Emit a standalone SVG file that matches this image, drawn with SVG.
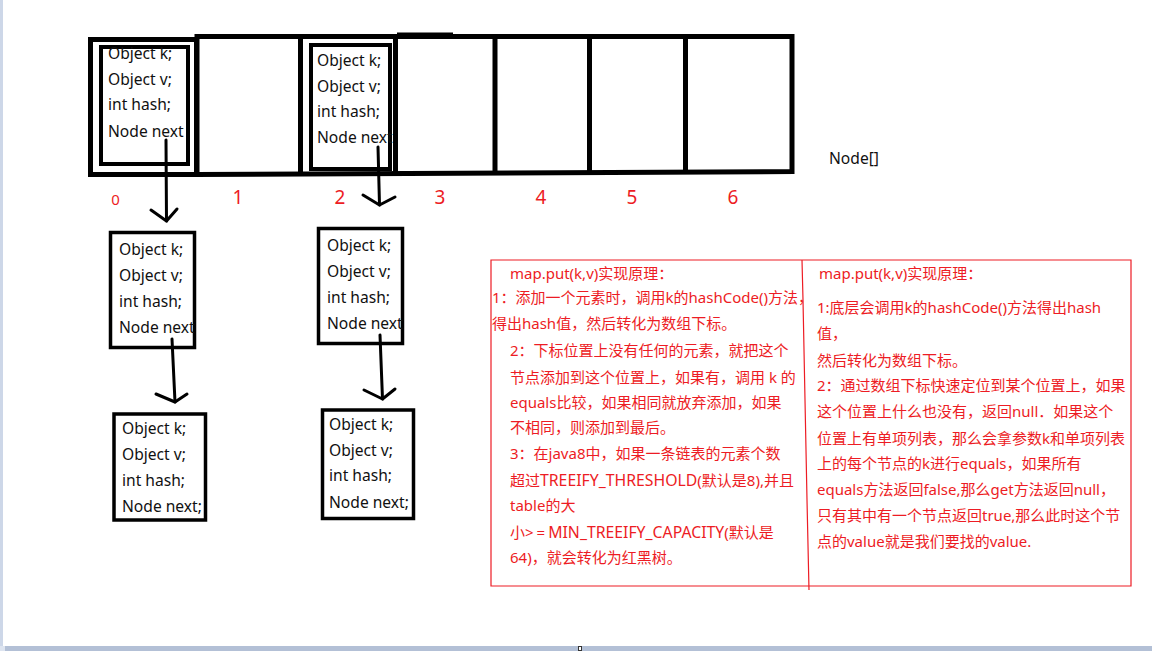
<svg xmlns="http://www.w3.org/2000/svg" width="1152" height="651" viewBox="0 0 1152 651">
<style>
.k{font-family:"Noto Sans","Liberation Sans",sans-serif;font-size:15.6px;fill:#111}
.r{font-family:"Noto Sans","Noto Sans CJK SC",sans-serif;font-size:15px;fill:#ed1c24}
.l{font-size:15.8px}
.idx{font-family:"Noto Sans","Liberation Sans",sans-serif;fill:#ed1c24;text-anchor:middle}
.thick{fill:none;stroke:#000;stroke-width:5}
.inner{fill:none;stroke:#000;stroke-width:4}
.node{fill:none;stroke:#000;stroke-width:3.5}
.arr{fill:none;stroke:#000;stroke-width:3;stroke-linecap:round;stroke-linejoin:round}
.red{fill:none;stroke:#ed1c24;stroke-width:1.2}
</style>
<rect x="0" y="0" width="1152" height="651" fill="#fff"/>
<rect x="0" y="0" width="3" height="651" fill="#cdd7e8"/>
<rect x="0" y="646" width="1152" height="5" fill="#b3c0d6"/>
<rect x="0" y="646" width="5" height="5" fill="#dde4f0"/>
<rect x="578.5" y="646.5" width="3" height="4" fill="#fff" stroke="#333" stroke-width="1"/>

<g id="array">
<rect class="thick" x="90.5" y="39.5" width="106" height="135"/>
<path class="thick" d="M197,36.5 L792,36.5 L792,171.5 L197,174.5 Z"/>
<path class="thick" d="M300.5,36.5 V174 M395.5,36.5 V173.5 M495,36.5 V173 M589.5,36.5 V172.5 M685.5,36.5 V172"/>
<path d="M397,34 H453" stroke="#000" stroke-width="3"/>
</g>

<g id="cell0">
<rect class="inner" x="101" y="47" width="87" height="117"/>
<text class="k" x="108" y="59">Object k;</text>
<text class="k" x="108" y="85">Object v;</text>
<text class="k" x="108" y="110">int hash;</text>
<text class="k" x="108" y="137">Node next</text>
</g>

<g id="cell2">
<rect class="inner" x="311" y="45" width="79" height="124"/>
<text class="k" x="317" y="66">Object k;</text>
<text class="k" x="317" y="92">Object v;</text>
<text class="k" x="317" y="117">int hash;</text>
<text class="k" x="317" y="143">Node next</text>
</g>

<g id="indices">
<text class="idx" x="115.5" y="205" font-size="15">0</text>
<text class="idx" x="238" y="204" font-size="19">1</text>
<text class="idx" x="340" y="204" font-size="19">2</text>
<text class="idx" x="440" y="204" font-size="19">3</text>
<text class="idx" x="541" y="204" font-size="19">4</text>
<text class="idx" x="632" y="204" font-size="19">5</text>
<text class="idx" x="733" y="204" font-size="19">6</text>
</g>

<g id="label-node-array">
<text class="k" x="829" y="164">Node[]</text>
</g>

<g id="nodeA">
<rect class="node" x="110.5" y="232.5" width="84" height="115"/>
<text class="k" x="119" y="255">Object k;</text>
<text class="k" x="119" y="281">Object v;</text>
<text class="k" x="119" y="307">int hash;</text>
<text class="k" x="119" y="333">Node next</text>
</g>

<g id="nodeB">
<rect class="node" x="114" y="414" width="91.5" height="106"/>
<text class="k" x="122" y="434">Object k;</text>
<text class="k" x="122" y="460">Object v;</text>
<text class="k" x="122" y="486">int hash;</text>
<text class="k" x="122" y="512">Node next;</text>
</g>

<g id="nodeC">
<rect class="node" x="318.5" y="228.5" width="84" height="115"/>
<text class="k" x="327" y="251">Object k;</text>
<text class="k" x="327" y="277">Object v;</text>
<text class="k" x="327" y="303">int hash;</text>
<text class="k" x="327" y="329">Node next</text>
</g>

<g id="nodeD">
<rect class="node" x="322.5" y="410" width="91" height="108.5"/>
<text class="k" x="329" y="430">Object k;</text>
<text class="k" x="329" y="456">Object v;</text>
<text class="k" x="329" y="481">int hash;</text>
<text class="k" x="329" y="508">Node next;</text>
</g>

<g id="connectors">
<path class="arr" d="M166,140 L166.5,221"/>
<path class="arr" d="M151,210 L166.5,221 L177,209"/>
<path class="arr" d="M378,147 L379.5,205"/>
<path class="arr" d="M363,195 L379.5,205 L395,197"/>
<path class="arr" d="M172,339 L175,402"/>
<path class="arr" d="M156,394 L175,402 L187,394"/>
<path class="arr" d="M380,335 L382.5,399"/>
<path class="arr" d="M364,390 L382.5,399 L395,389"/>
</g>

<g id="notes">
<path class="red" d="M491,260 H1131 V586 H491 Z"/>
<path class="red" d="M802,260 L803,300 L805,400 L807,500 L809,590"/>
<text class="r" x="510" y="278.5">map.put(k,v)实现原理：</text>
<text class="r" x="492" y="302.5">1：添加一个元素时，调用k的hashCode()方法，</text>
<text class="r" x="492" y="328.5">得出hash值，然后转化为数组下标。</text>
<text class="r" x="510" y="355.5">2：下标位置上没有任何的元素，就把这个</text>
<text class="r" x="510" y="382.5">节点添加到这个位置上，如果有，调用 k 的</text>
<text class="r" x="510" y="407.5">equals比较，如果相同就放弃添加，如果</text>
<text class="r" x="510" y="432.5">不相同，则添加到最后。</text>
<text class="r" x="510" y="458.5">3：在java8中，如果一条链表的元素个数</text>
<text class="r" x="510" y="485.5">超过<tspan class="l">TREEIFY_THRESHOLD</tspan>(默认是8),并且</text>
<text class="r" x="510" y="510.5">table的大</text>
<text class="r" x="510" y="537.5">小<tspan letter-spacing="3">&gt;=</tspan><tspan class="l">MIN_TREEIFY_CAPACITY</tspan>(默认是</text>
<text class="r" x="510" y="562.5">64)，就会转化为红黑树。</text>

<text class="r" x="819" y="278.5">map.put(k,v)实现原理：</text>
<text class="r" x="817" y="312.5">1:底层会调用k的hashCode()方法得出hash</text>
<text class="r" x="817" y="338.5">值，</text>
<text class="r" x="817" y="365.5">然后转化为数组下标。</text>
<text class="r" x="817" y="390.5">2：通过数组下标快速定位到某个位置上，如果</text>
<text class="r" x="817" y="416.5">这个位置上什么也没有，返回null．如果这个</text>
<text class="r" x="817" y="443.5">位置上有单项列表，那么会拿参数k和单项列表</text>
<text class="r" x="817" y="468.5">上的每个节点的k进行equals，如果所有</text>
<text class="r" x="817" y="494.5">equals方法返回false,那么get方法返回null，</text>
<text class="r" x="817" y="520.5">只有其中有一个节点返回true,那么此时这个节</text>
<text class="r" x="817" y="546.5">点的value就是我们要找的value.</text>
</g>
</svg>
